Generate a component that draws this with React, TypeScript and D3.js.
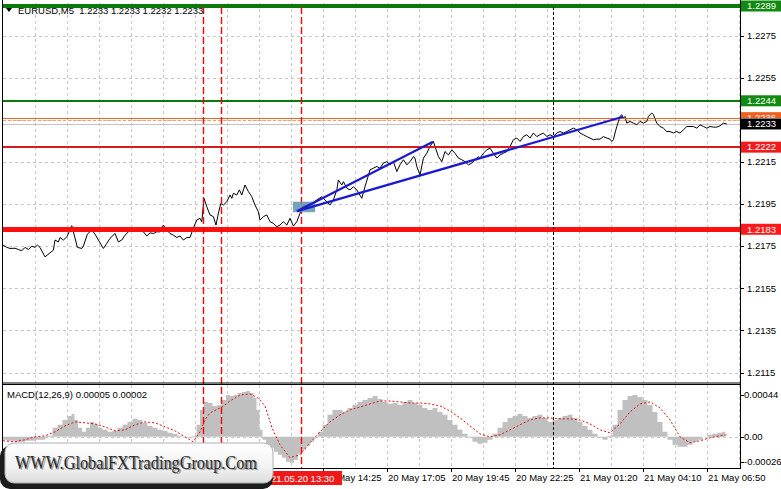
import React from 'react';
import * as d3 from 'd3';

const W = 781;
const H = 489;
const FONT = '"Liberation Sans", Arial, sans-serif';

// ---------- data ----------
const symbolHeader = 'EURUSD,M5  1.2233 1.2233 1.2232 1.2233';
const macdHeader = 'MACD(12,26,9) 0.00005 0.00002';

const priceTicks = [1.2275, 1.2255, 1.2235, 1.2215, 1.2195, 1.2175, 1.2155, 1.2135, 1.2115];
const priceTickLabels = ['1.2275', '1.2255', '1.2235', '1.2215', '1.2195', '1.2175', '1.2155', '1.2135', '1.2115'];

const macdTicks = [0.00044, 0, -0.00026];
const macdTickLabels = ['0.00044', '0.00', '-0.00026'];

const timeTickBars = [160, 192, 224, 256, 288, 320, 352];
const timeTickLabels = ['20 May 14:25', '20 May 17:05', '20 May 19:45', '20 May 22:25', '21 May 01:20', '21 May 04:10', '21 May 06:50'];
const hiddenTickBars = [32, 64, 96, 128];

// close prices: [bar index, price]
const closeSeries: [number, number][] = [
  [0, 1.21755], [1.9, 1.21744], [3.5, 1.21739], [6, 1.2174], [7.7, 1.21734], [9.4, 1.21728], [11, 1.21744], [12.7, 1.21734],
  [14.4, 1.2175], [16, 1.21744], [17.2, 1.21755], [18.5, 1.21744], [21, 1.21699], [23.5, 1.21718], [25.2, 1.21731], [26, 1.21779],
  [27.7, 1.2177], [28.5, 1.21791], [30.2, 1.21779], [31.9, 1.21794], [33.5, 1.21826], [34.4, 1.21847], [35.2, 1.21818], [37.2, 1.21744],
  [39.4, 1.21739], [40.2, 1.2175], [42.2, 1.21807], [44.4, 1.21826], [46, 1.21807], [47.7, 1.21779], [50.2, 1.21739], [51.9, 1.21763],
  [53.5, 1.21787], [56, 1.2181], [57.7, 1.2177], [59.4, 1.21779], [61, 1.21802], [62.7, 1.21818], [64.4, 1.21826], [68.5, 1.21826],
  [70.2, 1.21818], [71.9, 1.21798], [73.5, 1.21813], [75.2, 1.2181], [76.9, 1.21818], [78.5, 1.21818], [80.2, 1.2185], [81.9, 1.21826],
  [83.5, 1.2181], [85.2, 1.21802], [86.9, 1.21791], [88.5, 1.21798], [90.2, 1.21779], [91.9, 1.21791], [93.5, 1.21791],
  [95.2, 1.21836], [96.9, 1.21874], [98.5, 1.21882], [99.4, 1.21866], [100.5, 1.21977], [101.9, 1.21937], [103.5, 1.21898], [105.2, 1.2189],
  [106.5, 1.2185], [107.7, 1.21906], [108.9, 1.21953], [110.2, 1.21945], [111.9, 1.21961], [113.5, 1.21993], [114.4, 1.21977], [115.2, 1.22001],
  [116.9, 1.21993], [118.2, 1.22017], [119.4, 1.21993], [121, 1.2204], [122.7, 1.22009], [124.4, 1.21985], [126, 1.21945], [127.7, 1.21913],
  [128.5, 1.21874], [130.2, 1.2189], [131.9, 1.21898], [133.5, 1.21866], [135.2, 1.21858], [136.9, 1.21842], [138.5, 1.2185], [140.2, 1.21866],
  [141.9, 1.2185], [143.5, 1.21882], [145.2, 1.21845], [146.9, 1.21866], [148.5, 1.21906],
  [149.4, 1.21937], [151.9, 1.21945], [154.4, 1.21953], [156.9, 1.21969], [159.4, 1.21985], [161, 1.21969], [163.5, 1.21945], [165.2, 1.21969],
  [166.9, 1.22017], [167.7, 1.22064], [169.4, 1.2204], [170.2, 1.22056], [171.9, 1.22025], [173.5, 1.22017], [175.2, 1.22032], [176.9, 1.22017],
  [179.4, 1.21977], [181, 1.22032], [183.5, 1.22112], [185.2, 1.2212], [186.9, 1.22128], [188.5, 1.2212], [190.2, 1.22144], [191.9, 1.22151],
  [193.5, 1.22136], [195.2, 1.22151], [196.9, 1.22104], [198.5, 1.22136], [200.2, 1.2216], [201.9, 1.22136], [203.5, 1.22151], [205.2, 1.22175],
  [206, 1.22168], [206.9, 1.22128], [208.5, 1.22088], [210.2, 1.22168], [211.9, 1.22191], [213.5, 1.22223], [215.2, 1.22247], [216, 1.22223],
  [217.7, 1.22175], [219.4, 1.22151], [221, 1.22199], [222.7, 1.22183], [224.4, 1.22207], [226, 1.22191], [227.7, 1.22168], [229.4, 1.2216],
  [231, 1.22151], [232.7, 1.22136], [234.4, 1.22144], [236, 1.2216], [237.7, 1.22175], [238.5, 1.22168], [240.2, 1.22191], [241.9, 1.22207],
  [243.5, 1.22215], [245.2, 1.22191], [246.9, 1.22168], [248.5, 1.22183], [250.2, 1.22191], [251.9, 1.22199], [253.5, 1.22223], [255.2, 1.22255],
  [256.9, 1.22263], [258.5, 1.22247], [260.2, 1.2227], [261.9, 1.22279], [263.5, 1.22263], [265.2, 1.22287], [266.9, 1.2227], [268.5, 1.22279],
  [270.2, 1.22287], [271.9, 1.2227], [273.5, 1.22279], [275.2, 1.2227], [276.9, 1.22287], [278.5, 1.22294], [280.2, 1.22287], [281.9, 1.22294],
  [283.5, 1.22302], [285.2, 1.2231], [286.9, 1.22302],
  [288.5, 1.22287], [290.2, 1.22279], [291.9, 1.2227], [293.5, 1.22263], [295.2, 1.22255], [296.9, 1.22258], [298.5, 1.22258], [300.2, 1.2227],
  [301.9, 1.22263], [303.5, 1.22258], [304.4, 1.22247], [305.2, 1.22255], [306, 1.22287], [306.9, 1.22318], [307.7, 1.22342], [308.5, 1.22366],
  [309.4, 1.22374], [310.2, 1.22358], [311, 1.22366], [311.9, 1.22334], [313.5, 1.22342], [315.2, 1.22334], [316.9, 1.22326], [318.5, 1.22342],
  [320.2, 1.22334], [321.9, 1.22342], [322.7, 1.22366], [324.4, 1.22382], [325.2, 1.22374], [326.9, 1.22334], [328.5, 1.22318], [330.2, 1.2231],
  [331.9, 1.22294], [333.5, 1.22294], [335.2, 1.22287], [336.9, 1.22294], [338.5, 1.22287], [340.2, 1.22302], [341.9, 1.22318], [343.5, 1.22318],
  [345.2, 1.22318], [346.9, 1.2231], [348.5, 1.22326], [350.2, 1.22318], [351.9, 1.2231], [353.5, 1.22318], [355.2, 1.22315], [356.9, 1.22315],
  [358.5, 1.22321], [360.2, 1.22334], [361.9, 1.2233],
];

// MACD histogram: [bar index, value]
const macdHist: [number, number][] = [
  [0, -0.000031], [3.5, -0.000042], [8.5, -0.000052], [13.5, -0.000042], [18.5, -0.000031], [23.5, 0.00001], [26, 0.000094], [28.5, 0.000126],
  [31, 0.000178], [33.5, 0.00022], [35, 0.000241], [36.5, 0.000178], [38.5, 0.000094], [40.5, 0.000052], [42.5, 0.000094], [44.5, 0.000157],
  [46.5, 0.000136], [48.5, 0.000094], [51, 0.000073], [53.5, 0.000052], [56, 0.000063], [58.5, 0.000094], [61, 0.000126], [63.5, 0.000157],
  [66, 0.000189], [68.5, 0.000178], [71, 0.000147], [73.5, 0.000115], [76, 0.000094], [78.5, 0.000073], [81, 0.000063], [83.5, 0.000042],
  [86, 0.000031], [88.5, 0.00001], [91, 0], [93.5, -0.00001], [96, 0.00001], [97.5, 0.000126], [99.5, 0.000283], [101.5, 0.000367],
  [103.5, 0.000356], [106, 0.000325], [108.5, 0.000335], [110.5, 0.000388], [112.5, 0.00044], [114.5, 0.00043], [116.5, 0.00044], [118.5, 0.000461],
  [120.5, 0.000472], [122.5, 0.000482], [124.5, 0.000461], [126, 0.000409], [127.5, 0.000283], [129, 0.000073], [130.5, -0.000031], [132.5, -0.000084],
  [134.5, -0.000115], [136.5, -0.000157], [138.5, -0.000189], [140.5, -0.00022], [142.5, -0.000262], [144.5, -0.000272], [146.5, -0.000241], [148.5, -0.000178],
  [150.5, -0.000136], [152.5, -0.000094], [154.5, -0.000052], [156.5, -0.00001], [158.5, 0.000052], [161, 0.000126], [163.5, 0.000231], [166, 0.000283],
  [168.5, 0.000283], [171, 0.000262], [173.5, 0.000304], [176, 0.000335], [178.5, 0.000367], [181, 0.000388], [183.5, 0.000409], [186, 0.00043],
  [188.5, 0.000398], [191, 0.000367], [193.5, 0.000346], [196, 0.000356], [198.5, 0.000335], [201, 0.000367], [203.5, 0.000388], [206, 0.000356],
  [208.5, 0.000335], [211, 0.000304], [213.5, 0.000283], [216, 0.000304], [218.5, 0.000262], [221, 0.000231], [223.5, 0.000178], [226, 0.000126],
  [228.5, 0.000073], [231, 0.000031], [233.5, -0.00001], [236, -0.000052], [238.5, -0.000073], [241, -0.000063], [243.5, -0.000031], [246, 0.000031],
  [248.5, 0.000094], [251, 0.000157], [253.5, 0.000199], [256, 0.00022], [258.5, 0.000241], [261, 0.00022], [263.5, 0.000199], [266, 0.00022],
  [268.5, 0.000231], [271, 0.000199], [273.5, 0.000157], [276, 0.000178], [278.5, 0.000199], [281, 0.00022], [283.5, 0.000231], [286, 0.000199],
  [288.5, 0.000157], [291, 0.000115], [293.5, 0.000073], [296, 0.000031], [298.5, -0.00001], [301, -0.000031], [303.5, 0.00001], [306, 0.000126],
  [308.5, 0.000283], [311, 0.000388], [313.5, 0.00043], [316, 0.00044], [318.5, 0.000419], [321, 0.000388], [323.5, 0.000335], [326, 0.000262],
  [328.5, 0.000157], [331, 0.000052], [333.5, -0.000031], [336, -0.000084], [338.5, -0.000105], [341, -0.000105], [343.5, -0.000084], [346, -0.000052],
  [348.5, -0.000031], [351, 0], [353.5, 0.000021], [356, 0.000031], [358.5, 0.000042], [361, 0.000052],
];

// MACD signal line: [bar index, value]
const macdSignal: [number, number][] = [
  [0, -0.000042], [6, -0.000052], [11, -0.000031], [16, 0], [21, 0.00001], [26, 0.000052], [31, 0.000115], [36, 0.000157],
  [41, 0.000147], [46, 0.000136], [51, 0.000105], [56, 0.000063], [61, 0.000073], [66, 0.000126], [71, 0.000157], [76, 0.000147],
  [81, 0.000105], [86, 0.000063], [91, 0], [95, -0.000052], [98.5, 0.000052], [101, 0.000178], [103.5, 0.000252], [106.5, 0.000283],
  [109.5, 0.000314], [113.5, 0.000377], [118.5, 0.00044], [123.5, 0.000451], [127.5, 0.000409], [131, 0.000325], [134.5, 0.000094], [138.5, -0.000084],
  [143.5, -0.00022], [148.5, -0.000189], [153.5, -0.000063], [158.5, 0.000052], [163.5, 0.000157], [168.5, 0.000231], [173.5, 0.000283], [178.5, 0.000314],
  [183.5, 0.000346], [188.5, 0.000377], [193.5, 0.000377], [198.5, 0.000367], [203.5, 0.000356], [208.5, 0.000356], [213.5, 0.000346], [218.5, 0.000325],
  [223.5, 0.000272], [228.5, 0.000199], [233.5, 0.000115], [238.5, 0.000031], [243.5, 0], [248.5, 0.000021], [253.5, 0.000073], [258.5, 0.000126],
  [263.5, 0.000178], [268.5, 0.000199], [273.5, 0.000199], [278.5, 0.000189], [283.5, 0.000189], [288.5, 0.000178], [293.5, 0.000136], [298.5, 0.000073],
  [303.5, 0.000042], [308.5, 0.000136], [313.5, 0.000262], [318.5, 0.000346], [323.5, 0.000367], [328.5, 0.000304], [333.5, 0.000178], [338.5, 0],
  [343.5, -0.000063], [348.5, -0.000042], [353.5, -0.00001], [358.5, 0.00001], [362, 0.000021],
];

// horizontal price levels
const levelPrices = [1.2289, 1.2244, 1.2236, 1.2222, 1.2183];
const levelLabels = ['1.2289', '1.2244', '1.2236', '1.2222', '1.2183'];
const levelColors = ['#0a7a0a', '#0a7a0a', '#ee6420', '#d21e1e', '#ff1010'];
const levelWidths = [3, 2, 1, 2, 5];
const levelLabelColors = ['#108a10', '#108a10', '#f06020', '#ee1c1c', '#ff1a1a'];
const bidPrice = 1.2233;
const askDashPrice = 1.22351;

// vertical event lines (bar index)
const redEventBars = [100, 109, 149];
const blackEventBar = 275;
const eventTimeLabel = '21.05.20 13:30';

// trend lines: [bar0, price0, bar1, price1]
const trendLines: [number, number, number, number][] = [
  [147, 1.21916, 215, 1.22246],
  [147, 1.21916, 310, 1.22364],
];
// highlighted box: [bar0, bar1, priceTop, priceBottom]
const markBox: [number, number, number, number] = [145, 156, 1.21961, 1.21911];

const gridBars = d3.range(16, 369, 16);

export default function App() {
  const L = 3;
  const R = 740;
  const mainTop = 3;
  const mainBottom = 382.5;
  const macdTop = 385;
  const macdBottom = 468;

  const x = d3.scaleLinear().domain([0, 368.5]).range([L, R]);
  const y = d3.scaleLinear().domain([1.2115, 1.2275]).range([372.5, 35.5]);
  const ym = d3.scaleLinear().domain([-0.00026, 0.00044]).range([461.5, 395]);

  const priceLine = d3.line<[number, number]>().x(d => x(d[0])).y(d => y(d[1]));
  const sigLine = d3.line<[number, number]>().x(d => x(d[0])).y(d => ym(d[1]));
  const histArea = d3.area<[number, number]>()
    .x(d => x(d[0]))
    .y0(ym(0))
    .y1(d => ym(d[1]))
    .curve(d3.curveStep);

  const gridStyle = { stroke: '#c8c8c8', strokeWidth: 1, strokeDasharray: '3,3' };
  const evX = (b: number) => Math.round(x(b)) + 0.5;
  const redBoxX = x(redEventBars[2]) - 31;

  return (
    <svg width={W} height={H} style={{ position: 'absolute', left: 0, top: 0, background: '#fff' }} fontFamily={FONT}>
      <defs>
        <linearGradient id="wm" x1="0" y1="0" x2="0" y2="1">
          <stop offset="0" stopColor="#ffffff" />
          <stop offset="0.6" stopColor="#f2f2f2" />
          <stop offset="1" stopColor="#dcdcdc" />
        </linearGradient>
        <clipPath id="mainClip"><rect x={L} y={mainTop} width={R - L} height={mainBottom - mainTop} /></clipPath>
        <clipPath id="macdClip"><rect x={L} y={macdTop} width={R - L} height={macdBottom - macdTop} /></clipPath>
        <clipPath id="afterRed"><rect x={redBoxX + 72} y={468} width={200} height={21} /></clipPath>
        <clipPath id="orangeClip"><rect x={R + 1} y={0} width={W - R} height={Math.round(y(bidPrice) - 5.5)} /></clipPath>
      </defs>
      <rect x={0} y={0} width={W} height={H} fill="#fff" />

      {/* grid main */}
      {priceTicks.map((p, i) => (
        <line key={'hg' + i} x1={L} x2={R} y1={Math.round(y(p)) + 0.5} y2={Math.round(y(p)) + 0.5} style={gridStyle} />
      ))}
      {gridBars.map((b, i) => (
        <line key={'vg' + i} x1={evX(b)} x2={evX(b)} y1={mainTop} y2={mainBottom} style={gridStyle} />
      ))}
      {/* grid macd */}
      <line x1={L} x2={R} y1={Math.round(ym(0)) + 0.5} y2={Math.round(ym(0)) + 0.5} style={gridStyle} />
      {gridBars.map((b, i) => (
        <line key={'vgm' + i} x1={evX(b)} x2={evX(b)} y1={macdTop} y2={macdBottom} style={gridStyle} />
      ))}

      {/* MACD */}
      <g clipPath="url(#macdClip)">
        <path d={histArea(macdHist) || ''} fill="#c0c0c0" />
        <path d={sigLine(macdSignal) || ''} fill="none" stroke="#e01010" strokeWidth={1} strokeDasharray="2,2" />
      </g>

      {/* main price */}
      <g clipPath="url(#mainClip)">
        <line x1={L} x2={R} y1={Math.round(y(bidPrice)) + 0.5} y2={Math.round(y(bidPrice)) + 0.5} stroke="#c4c4c4" strokeWidth={1} />
        <line x1={L} x2={R} y1={Math.round(y(askDashPrice)) + 0.5} y2={Math.round(y(askDashPrice)) + 0.5} stroke="#f4a070" strokeWidth={1} strokeDasharray="3,2" />
        <path d={priceLine(closeSeries) || ''} fill="none" stroke="#000" strokeWidth={1} />
        {levelPrices.map((p, i) => (
          <line key={'lv' + i} x1={L} x2={R}
            y1={levelWidths[i] % 2 === 1 ? Math.round(y(p)) + 0.5 : Math.round(y(p))}
            y2={levelWidths[i] % 2 === 1 ? Math.round(y(p)) + 0.5 : Math.round(y(p))}
            stroke={levelColors[i]} strokeWidth={levelWidths[i]} />
        ))}
      </g>
      <line x1={L} x2={R} y1={Math.round(y(levelPrices[0])) - 0.5} y2={Math.round(y(levelPrices[0])) - 0.5} stroke={levelColors[0]} strokeWidth={3} />

      {/* vertical event lines */}
      {redEventBars.map((b, i) => (
        <line key={'ev' + i} x1={evX(b)} x2={evX(b)} y1={mainTop + 4} y2={macdBottom} stroke="#ff0000" strokeWidth={1.4} strokeDasharray="7,3" />
      ))}
      <line x1={evX(blackEventBar)} x2={evX(blackEventBar)} y1={mainTop + 4} y2={macdBottom} stroke="#000" strokeWidth={1} strokeDasharray="3,2" />

      {/* mark box and trend lines */}
      <rect x={x(markBox[0])} y={y(markBox[2])} width={x(markBox[1]) - x(markBox[0])} height={y(markBox[3]) - y(markBox[2])} fill="#5f94ac" opacity={0.85} />
      {trendLines.map((t, i) => (
        <line key={'tl' + i} x1={x(t[0])} y1={y(t[1])} x2={x(t[2])} y2={y(t[3])} stroke="#1a1ad0" strokeWidth={2.2} />
      ))}

      {/* frames */}
      <line x1={L - 0.5} x2={L - 0.5} y1={0} y2={macdBottom} stroke="#000" />
      <line x1={R + 0.5} x2={R + 0.5} y1={0} y2={macdBottom + 0.5} stroke="#000" />
      <line x1={L - 1} x2={R + 1} y1={mainBottom + 0.5} y2={mainBottom + 0.5} stroke="#000" />
      <line x1={L - 1} x2={R + 1} y1={macdTop - 0.5} y2={macdTop - 0.5} stroke="#000" />
      <line x1={L - 1} x2={R + 1} y1={macdBottom + 0.5} y2={macdBottom + 0.5} stroke="#000" />

      {/* price axis */}
      {priceTicks.map((p, i) => (
        <g key={'pt' + i}>
          <line x1={R + 1} x2={R + 4} y1={Math.round(y(p)) + 0.5} y2={Math.round(y(p)) + 0.5} stroke="#000" />
          {priceTickLabels[i] !== '1.2235' && (
            <text x={R + 7} y={y(p)} dy="0.35em" fontSize={9.5} fill="#000">{priceTickLabels[i]}</text>
          )}
        </g>
      ))}
      {macdTicks.map((v, i) => (
        <g key={'mt' + i}>
          <line x1={R + 1} x2={R + 4} y1={Math.round(ym(v)) + 0.5} y2={Math.round(ym(v)) + 0.5} stroke="#000" />
          <text x={R + 4} y={ym(v)} dy="0.35em" fontSize={9.5} fill="#000">{macdTickLabels[i]}</text>
        </g>
      ))}

      {/* level labels */}
      {levelPrices.map((p, i) => (
        <g key={'ll' + i} clipPath={i === 2 ? 'url(#orangeClip)' : undefined}>
          <rect x={R + 1} y={y(p) - 5.5} width={W - R - 1} height={11} fill={levelLabelColors[i]} />
          <text x={R + 7} y={y(p)} dy="0.35em" fontSize={9.5} fill="#fff">{levelLabels[i]}</text>
        </g>
      ))}
      <rect x={R + 1} y={y(bidPrice) - 5.5} width={W - R - 1} height={11} fill="#000" />
      <text x={R + 7} y={y(bidPrice)} dy="0.35em" fontSize={9.5} fill="#fff">{bidPrice.toFixed(4)}</text>

      {/* header */}
      <path d="M6,8 L12,8 L9,12 Z" fill="#000" />
      <text x={18} y={14} fontSize={9.5} fill="#000" style={{ whiteSpace: 'pre' }}>{symbolHeader}</text>
      <text x={7} y={398} fontSize={9.5} fill="#000">{macdHeader}</text>

      {/* time axis */}
      {hiddenTickBars.map((b, i) => (
        <line key={'ht' + i} x1={evX(b)} x2={evX(b)} y1={macdBottom + 1} y2={macdBottom + 4} stroke="#000" />
      ))}
      {timeTickBars.map((b, i) => (
        <g key={'tt' + i}>
          <line x1={evX(b)} x2={evX(b)} y1={macdBottom + 1} y2={macdBottom + 4} stroke="#000" />
          <text x={x(b) + 1} y={481} fontSize={9.5} fill="#000" clipPath={i === 0 ? 'url(#afterRed)' : undefined}>{timeTickLabels[i]}</text>
        </g>
      ))}
      <rect x={redBoxX} y={471} width={72} height={14} fill="#f01818" />
      <text x={redBoxX + 1} y={481.5} fontSize={9.5} fill="#fff">{eventTimeLabel}</text>

      {/* watermark */}
      <rect x={0} y={446} width={273} height={43} rx={10} fill="#1c1c1c" />
      <rect x={5} y={443} width={268} height={40} rx={9} fill="url(#wm)" stroke="#b0b0b0" />
      <text x={16.5} y={470} fontSize={19} fontFamily='"Liberation Serif", "Times New Roman", serif' fill="#9a9a9a" textLength={242} lengthAdjust="spacingAndGlyphs">WWW.GlobalFXTradingGroup.Com</text>
      <text x={15} y={468.5} fontSize={19} fontFamily='"Liberation Serif", "Times New Roman", serif' fill="#2a2a2a" textLength={242} lengthAdjust="spacingAndGlyphs">WWW.GlobalFXTradingGroup.Com</text>
    </svg>
  );
}
